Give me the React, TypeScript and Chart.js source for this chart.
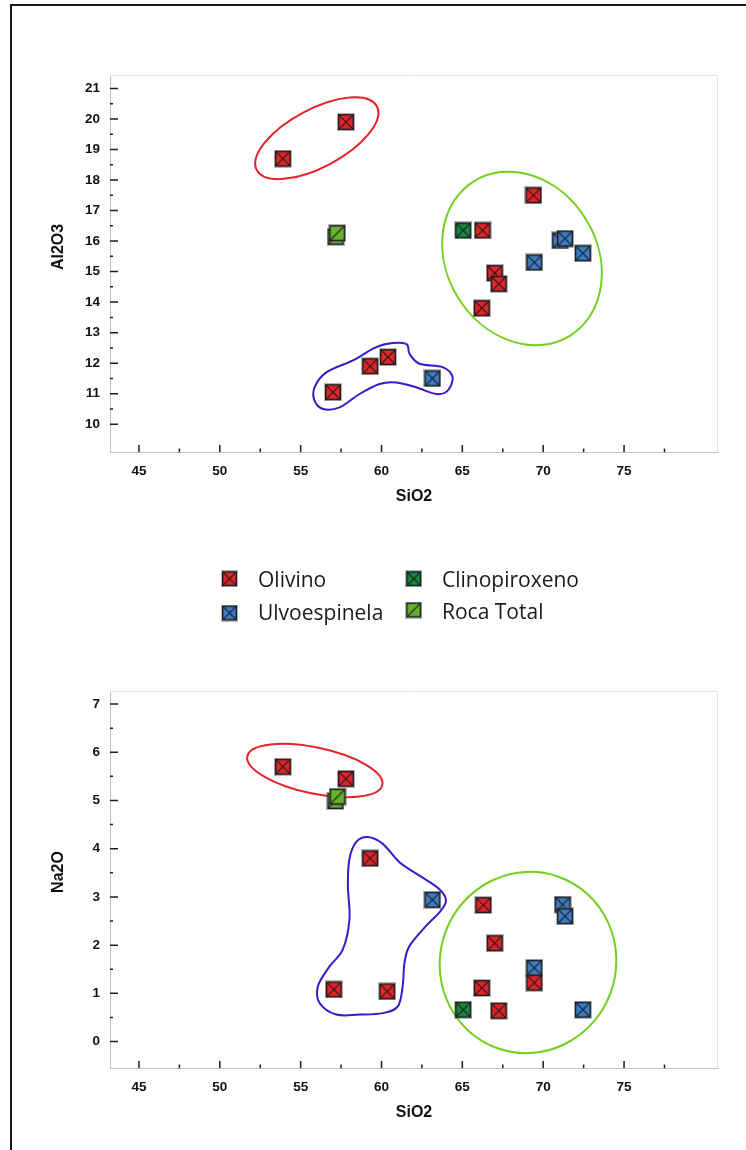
import React, { useEffect, useRef } from 'react';
import { Chart, registerables } from 'chart.js';

Chart.register(...registerables);

const FONT = '"Liberation Sans", Arial, sans-serif';

// ---------- series ----------
const seriesNames = ['Olivino', 'Ulvoespinela', 'Clinopiroxeno', 'Roca Total'];
const seriesColors = ['#e5242a', '#3c7ec7', '#138a3d', '#68b42f'];

// ---------- axis ticks ----------
const sio2Ticks = [45, 50, 55, 60, 65, 70, 75];
const sio2MinorTicks = [47.5, 52.5, 57.5, 62.5, 67.5, 72.5, 77.5];
const al2o3Ticks = [10, 11, 12, 13, 14, 15, 16, 17, 18, 19, 20, 21];
const al2o3MinorTicks = [10.5, 11.5, 12.5, 13.5, 14.5, 15.5, 16.5, 17.5, 18.5, 19.5, 20.5];
const na2oTicks = [0, 1, 2, 3, 4, 5, 6, 7];
const na2oMinorTicks = [0.5, 1.5, 2.5, 3.5, 4.5, 5.5, 6.5];

// ---------- Al2O3 vs SiO2 ----------
const olivinoSiO2A = [53.9, 57.8, 57.0, 59.3, 60.4, 66.25, 69.4, 67.0, 67.25, 66.2];
const olivinoAl2O3 = [18.7, 19.9, 11.05, 11.9, 12.2, 16.35, 17.5, 14.95, 14.6, 13.8];
const ulvoSiO2A = [63.15, 69.45, 71.05, 71.35, 72.45];
const ulvoAl2O3 = [11.5, 15.3, 16.02, 16.08, 15.6];
const clinoSiO2A = [65.05];
const clinoAl2O3 = [16.35];
const rocaSiO2A = [57.16, 57.26];
const rocaAl2O3 = [16.14, 16.26];

// ---------- Na2O vs SiO2 ----------
const olivinoSiO2B = [53.9, 57.8, 59.3, 57.05, 60.35, 66.3, 67.0, 66.2, 69.45, 67.25];
const olivinoNa2O = [5.7, 5.45, 3.8, 1.08, 1.04, 2.83, 2.04, 1.11, 1.22, 0.64];
const ulvoSiO2B = [63.15, 71.2, 71.35, 69.45, 72.45];
const ulvoNa2O = [2.94, 2.84, 2.6, 1.53, 0.66];
const clinoSiO2B = [65.05];
const clinoNa2O = [0.66];
const rocaSiO2B = [57.15, 57.28];
const rocaNa2O = [4.99, 5.08];

// ---------- hand-drawn grouping outlines (data coordinates) ----------
const al2o3BlueOutlineX = [55.86, 56.59, 58.23, 59.46, 60.29, 61.52, 61.73, 62.35, 63.78, 64.4, 64.09, 63.38, 62.14, 60.91, 59.88, 58.64, 57.41, 56.38, 55.86];
const al2o3BlueOutlineY = [11.21, 11.7, 12.09, 12.47, 12.63, 12.63, 12.31, 11.98, 11.87, 11.54, 11.1, 10.99, 11.21, 11.37, 11.32, 10.99, 10.55, 10.5, 10.77];
const na2oBlueOutlineX = [59.15, 60.08, 61.11, 62.35, 63.58, 63.99, 63.58, 62.76, 61.73, 61.42, 61.31, 61.01, 60.08, 58.64, 57.2, 56.17, 56.07, 56.79, 57.61, 58.02, 57.92, 58.02, 58.44];
const na2oBlueOutlineY = [4.24, 4.1, 3.72, 3.44, 3.16, 2.92, 2.68, 2.4, 1.98, 1.63, 1.15, 0.73, 0.59, 0.56, 0.56, 0.8, 1.15, 1.56, 1.91, 2.54, 3.23, 3.79, 4.14];
const al2o3EllipseCenters = [[56.0, 19.37], [68.69, 15.43]];
const na2oEllipseCenters = [[55.88, 5.62], [69.06, 1.64]];

type Ell = { c: number[]; rx: number; ry: number; rot: number; color: string };

function makeMarker(color: string, diagonalOnly: boolean, size = 18): HTMLCanvasElement {
  const c = document.createElement('canvas');
  c.width = size;
  c.height = size;
  const g = c.getContext('2d')!;
  g.fillStyle = 'rgba(90,90,90,0.45)';
  g.fillRect(0, 0, size, size);
  g.fillStyle = '#1c1c1c';
  g.fillRect(1, 1, size - 2, size - 2);
  g.fillStyle = color;
  g.fillRect(2.4, 2.4, size - 4.8, size - 4.8);
  g.strokeStyle = '#1c1c1c';
  g.lineWidth = 1.2;
  g.beginPath();
  if (diagonalOnly) {
    g.moveTo(2.4, size - 2.4);
    g.lineTo(size - 2.4, 2.4);
  } else {
    g.moveTo(2.4, 2.4);
    g.lineTo(size - 2.4, size - 2.4);
    g.moveTo(size - 2.4, 2.4);
    g.lineTo(2.4, size - 2.4);
  }
  g.stroke();
  return c;
}

function overlayPlugin(
  yMajor: number[], yMinor: number[], ellipses: Ell[],
  blobX: number[], blobY: number[], blobColor: string,
  yTitle: string, yTitleCenter: number
) {
  return {
    id: 'overlay',
    beforeDatasetsDraw(chart: any) {
      const { ctx, chartArea: a } = chart;
      const xs = chart.scales.x;
      const ys = chart.scales.y;
      ctx.save();
      // light frame top/right
      ctx.strokeStyle = '#e4e4e4';
      ctx.lineWidth = 1;
      ctx.beginPath();
      ctx.moveTo(a.left, a.top + 0.5);
      ctx.lineTo(a.right - 0.5, a.top + 0.5);
      ctx.lineTo(a.right - 0.5, a.bottom);
      ctx.stroke();
      // inward ticks
      ctx.strokeStyle = '#1e1e1e';
      ctx.lineWidth = 1.5;
      ctx.beginPath();
      sio2Ticks.forEach((v) => {
        const p = xs.getPixelForValue(v);
        ctx.moveTo(p, a.bottom);
        ctx.lineTo(p, a.bottom - 7);
      });
      sio2MinorTicks.forEach((v) => {
        const p = xs.getPixelForValue(v);
        ctx.moveTo(p, a.bottom);
        ctx.lineTo(p, a.bottom - 3.5);
      });
      yMajor.forEach((v) => {
        const p = ys.getPixelForValue(v);
        ctx.moveTo(a.left, p);
        ctx.lineTo(a.left + 8, p);
      });
      yMinor.forEach((v) => {
        const p = ys.getPixelForValue(v);
        ctx.moveTo(a.left, p);
        ctx.lineTo(a.left + 3, p);
      });
      ctx.stroke();
      // ellipses
      ctx.lineWidth = 2;
      ellipses.forEach((e) => {
        ctx.strokeStyle = e.color;
        ctx.beginPath();
        ctx.ellipse(xs.getPixelForValue(e.c[0]), ys.getPixelForValue(e.c[1]), e.rx, e.ry, (e.rot * Math.PI) / 180, 0, Math.PI * 2);
        ctx.stroke();
      });
      // closed smooth outline
      const pts = blobX.map((v, i) => ({ x: xs.getPixelForValue(v), y: ys.getPixelForValue(blobY[i]) }));
      const n = pts.length;
      ctx.strokeStyle = blobColor;
      ctx.beginPath();
      ctx.moveTo(pts[0].x, pts[0].y);
      for (let i = 0; i < n; i++) {
        const p0 = pts[(i - 1 + n) % n];
        const p1 = pts[i];
        const p2 = pts[(i + 1) % n];
        const p3 = pts[(i + 2) % n];
        ctx.bezierCurveTo(
          p1.x + (p2.x - p0.x) / 6, p1.y + (p2.y - p0.y) / 6,
          p2.x - (p3.x - p1.x) / 6, p2.y - (p3.y - p1.y) / 6,
          p2.x, p2.y
        );
      }
      ctx.closePath();
      ctx.stroke();
      // y axis title (offset from plot centre as in the original)
      ctx.translate(59, yTitleCenter);
      ctx.rotate(-Math.PI / 2);
      ctx.font = `bold 16px ${FONT}`;
      ctx.fillStyle = '#111';
      ctx.textAlign = 'center';
      ctx.textBaseline = 'middle';
      ctx.fillText(yTitle, 0, 0);
      ctx.restore();
    },
  };
}

function toPts(xs: number[], ys: number[]) {
  return xs.map((x, i) => ({ x, y: ys[i] }));
}

function makeConfig(
  series: { x: number[]; y: number[] }[],
  markers: HTMLCanvasElement[],
  yMin: number, yMax: number, yTicks: number[],
  plugin: any
): any {
  const tickFont = { family: FONT, size: 13.5, weight: 'bold' as const };
  const titleFont = { family: FONT, size: 16, weight: 'bold' as const };
  return {
    type: 'scatter',
    data: {
      datasets: series.map((s, i) => ({
        label: seriesNames[i],
        data: toPts(s.x, s.y),
        pointStyle: markers[i],
        pointRadius: 9,
        pointHoverRadius: 9,
        backgroundColor: seriesColors[i],
        borderColor: '#1c1c1c',
        showLine: false,
      })),
    },
    options: {
      animation: false,
      responsive: false,
      maintainAspectRatio: false,
      devicePixelRatio: 1,
      events: [],
      layout: { padding: { top: 75, right: 28, left: 0, bottom: 0 } },
      plugins: { legend: { display: false }, tooltip: { enabled: false }, title: { display: false } },
      scales: {
        x: {
          type: 'linear',
          min: 43.21,
          max: 80.81,
          afterBuildTicks: (s: any) => { s.ticks = sio2Ticks.map((v) => ({ value: v })); },
          afterFit: (s: any) => { s.height = 68; },
          grid: { display: false, drawTicks: false },
          border: { display: true, color: '#c4c4c4', width: 1 },
          ticks: { padding: 11, font: tickFont, color: '#111', autoSkip: false, maxRotation: 0, callback: (v: any) => String(v) },
          title: { display: true, text: 'SiO2', color: '#111', font: titleFont, padding: { top: 0, bottom: 14 } },
        },
        y: {
          type: 'linear',
          min: yMin,
          max: yMax,
          afterBuildTicks: (s: any) => { s.ticks = yTicks.map((v) => ({ value: v })); },
          afterFit: (s: any) => { s.width = 110; },
          grid: { display: false, drawTicks: false },
          border: { display: true, color: '#c4c4c4', width: 1 },
          ticks: { padding: 10, font: tickFont, color: '#111', autoSkip: false, callback: (v: any) => String(v) },
          title: { display: false },
        },
      },
    },
    plugins: [plugin],
  };
}

function drawLegend(cv: HTMLCanvasElement, markers: HTMLCanvasElement[]) {
  const g = cv.getContext('2d')!;
  g.clearRect(0, 0, cv.width, cv.height);
  const slots = [
    { mx: 229.5, my: 28.7, tx: 258, ty: 37 },
    { mx: 229.5, my: 63, tx: 258, ty: 70 },
    { mx: 413.7, my: 28.7, tx: 442, ty: 37 },
    { mx: 413.7, my: 60, tx: 442, ty: 69 },
  ];
  g.font = '21px "Open Sans", "Noto Sans", sans-serif';
  g.fillStyle = '#1a1a1a';
  g.textBaseline = 'alphabetic';
  seriesNames.forEach((name, i) => {
    const s = slots[i];
    const m = markers[i];
    g.drawImage(m, s.mx - m.width / 2, s.my - m.height / 2);
    g.fillText(name, s.tx, s.ty);
  });
}

export default function App() {
  const topRef = useRef<HTMLCanvasElement>(null);
  const botRef = useRef<HTMLCanvasElement>(null);
  const legRef = useRef<HTMLCanvasElement>(null);

  useEffect(() => {
    const markers = seriesColors.map((c, i) => makeMarker(c, i === 3));
    const legendMarkers = seriesColors.map((c, i) => makeMarker(c, i === 3, 17));

    const top = new Chart(
      topRef.current!,
      makeConfig(
        [
          { x: olivinoSiO2A, y: olivinoAl2O3 },
          { x: ulvoSiO2A, y: ulvoAl2O3 },
          { x: clinoSiO2A, y: clinoAl2O3 },
          { x: rocaSiO2A, y: rocaAl2O3 },
        ],
        markers, 9.09, 21.44, al2o3Ticks,
        overlayPlugin(
          al2o3Ticks, al2o3MinorTicks,
          [
            { c: al2o3EllipseCenters[0], rx: 68, ry: 29, rot: -28, color: '#e8202a' },
            { c: al2o3EllipseCenters[1], rx: 75, ry: 91, rot: -32, color: '#74cf1f' },
          ],
          al2o3BlueOutlineX, al2o3BlueOutlineY, '#3a18cc',
          'Al2O3', 247
        )
      )
    );
    const bot = new Chart(
      botRef.current!,
      makeConfig(
        [
          { x: olivinoSiO2B, y: olivinoNa2O },
          { x: ulvoSiO2B, y: ulvoNa2O },
          { x: clinoSiO2B, y: clinoNa2O },
          { x: rocaSiO2B, y: rocaNa2O },
        ],
        markers, -0.548, 7.27, na2oTicks,
        overlayPlugin(
          na2oTicks, na2oMinorTicks,
          [
            { c: na2oEllipseCenters[0], rx: 69, ry: 23, rot: 12, color: '#e8202a' },
            { c: na2oEllipseCenters[1], rx: 88, ry: 91, rot: 20, color: '#74cf1f' },
          ],
          na2oBlueOutlineX, na2oBlueOutlineY, '#3a18cc',
          'Na2O', 256
        )
      )
    );
    drawLegend(legRef.current!, legendMarkers);
    return () => {
      top.destroy();
      bot.destroy();
    };
  }, []);

  return (
    <div style={{ position: 'absolute', left: 0, top: 0, width: 746, height: 1150, overflow: 'hidden', background: '#fff' }}>
      <div
        style={{
          position: 'absolute', left: 10, top: 4, right: -20, bottom: -20,
          borderTop: '2px solid #161616', borderLeft: '2px solid #161616',
        }}
      />
      <canvas ref={topRef} width={746} height={520} style={{ position: 'absolute', left: 0, top: 0 }} />
      <canvas ref={legRef} width={746} height={80} style={{ position: 'absolute', left: 0, top: 550 }} />
      <canvas ref={botRef} width={746} height={520} style={{ position: 'absolute', left: 0, top: 616 }} />
    </div>
  );
}
